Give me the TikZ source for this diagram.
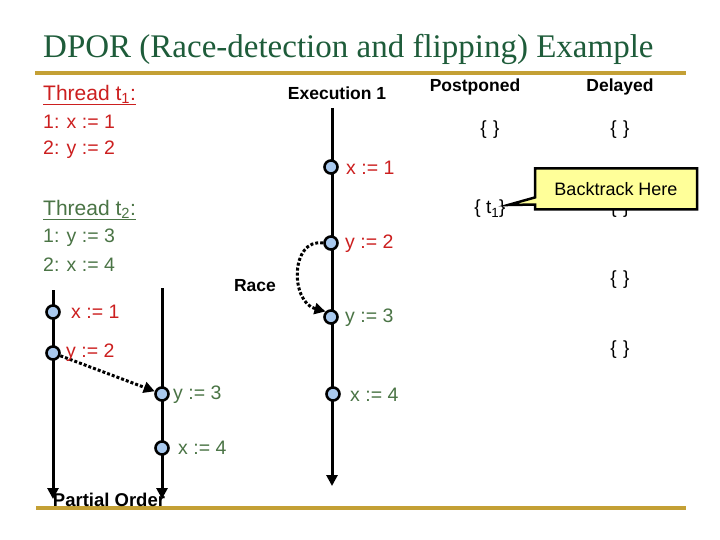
\documentclass[tikz,border=0pt]{standalone}
\usepackage{fontspec}
\setmainfont{Liberation Sans}
\newfontfamily\titlefont{Liberation Serif}
\usetikzlibrary{arrows.meta,shapes.callouts}
\definecolor{tred}{HTML}{CC1F1F}
\definecolor{tgreen}{HTML}{4A7445}
\definecolor{ttitle}{HTML}{1E5C3A}
\definecolor{gold}{HTML}{C4A035}
\definecolor{evfill}{HTML}{A9C9EE}
\definecolor{calloutfill}{HTML}{FFFF99}
\begin{document}
\begin{tikzpicture}[x=1pt,y=-1pt,
  ev/.style={circle,draw=black,line width=2.6pt,fill=evfill,inner sep=0pt,minimum size=13pt},
  redtxt/.style={anchor=west,text=tred,font=\fontsize{19.5}{23}\selectfont,inner sep=0pt},
  greentxt/.style={anchor=west,text=tgreen,font=\fontsize{19.5}{23}\selectfont,inner sep=0pt},
  thd/.style={font=\fontsize{21}{25}\selectfont},
  hdr/.style={font=\bfseries\fontsize{17.5}{21}\selectfont,inner sep=0pt},
  setlbl/.style={font=\fontsize{19}{22}\selectfont,inner sep=0pt},
  tarrow/.style={line width=3pt,-{Triangle[length=11pt,width=11pt]}},
  dotarrow/.style={line width=3pt,dotted,-{Triangle[length=11pt,width=11pt]}}
]
\useasboundingbox (0,0) rectangle (720,540);
\fill[white] (0,0) rectangle (720,540);
% title and rules
\node[anchor=base west,text=ttitle,inner sep=0pt,font=\titlefont\fontsize{33}{38}\selectfont] (title) at (43,58) {DPOR (Race-detection and flipping) Example};
\coordinate (r1a) at (35,73); \coordinate (r1b) at (686,73);
\draw[gold,line width=3.5pt] (r1a) -- (r1b);
\coordinate (r2a) at (36,508); \coordinate (r2b) at (686,508);
\draw[gold,line width=3.5pt] (r2a) -- (r2b);
% threads
\node[redtxt,thd] (th1) at (43,95) {\underline{Thread t\textsubscript{1}:}};
\node[redtxt] (th1a) at (43,122) {1: x := 1};
\node[redtxt] (th1b) at (43,150) {2: y := 2};
\node[greentxt,thd] (th2) at (43,210) {\underline{Thread t\textsubscript{2}:}};
\node[greentxt] (th2a) at (43,238) {1: y := 3};
\node[greentxt] (th2b) at (43,265) {2: x := 4};
% execution 1
\node[hdr] (exh) at (337,93) {Execution 1};
\coordinate (etop) at (332,108);
\coordinate (ebot) at (332,486);
\draw[tarrow] (etop) -- (ebot);
\node[ev] (e1) at (331,167) {};
\node[ev] (e2) at (331,243) {};
\node[ev] (e3) at (331,317) {};
\node[ev] (e4) at (333,394) {};
\node[redtxt] (l1) at (346,168) {x := 1};
\node[redtxt] (l2) at (345,244) {y := 2};
\node[greentxt] (l3) at (345,318) {y := 3};
\node[greentxt] (l4) at (350,395) {x := 4};
\draw[dotarrow] (e2.west) .. controls (290,238) and (290,302) .. (e3.north west);
\node[hdr] (race) at (255,286) {Race};
% partial order
\coordinate (ptop) at (53,290);
\coordinate (pbot) at (53,499);
\coordinate (qtop) at (162,288);
\coordinate (qbot) at (162,499);
\draw[tarrow] (ptop) -- (pbot);
\draw[tarrow] (qtop) -- (qbot);
\node[ev] (p1) at (53,312) {};
\node[ev] (p2) at (53,353) {};
\node[ev] (q1) at (162,394) {};
\node[ev] (q2) at (162,448) {};
\draw[dotarrow] (p2) -- (q1);
\node[redtxt] (pl1) at (71,312) {x := 1};
\node[redtxt] (pl2) at (66,353) {y := 2};
\node[greentxt] (ql1) at (173,395) {y := 3};
\node[greentxt] (ql2) at (178,448) {x := 4};
\node[hdr,font=\bfseries\fontsize{18.5}{22}\selectfont] (po) at (109,500) {Partial Order};
% postponed / delayed
\node[hdr] (pph) at (475,87) {Postponed};
\node[hdr] (dlh) at (620,87) {Delayed};
\node[setlbl] (pp1) at (490,130) {\{\,\,\}};
\node[setlbl] (dl1) at (620,130) {\{\,\,\}};
\node[setlbl] (pp2) at (490,209) {\{ t\textsubscript{1}\}};
\node[setlbl] (dl2) at (620,209) {\{\,\,\}};
\node[setlbl] (dl3) at (620,280) {\{\,\,\}};
\node[setlbl] (dl4) at (620,350) {\{\,\,\}};
% callout
\node[rectangle callout,draw=black,line width=2.5pt,fill=calloutfill,
  minimum width=162pt,minimum height=41pt,inner sep=0pt,
  callout absolute pointer={(508,205)},
  font=\fontsize{18}{21}\selectfont] (bt) at (616,189) {Backtrack Here};
\end{tikzpicture}
\end{document}
